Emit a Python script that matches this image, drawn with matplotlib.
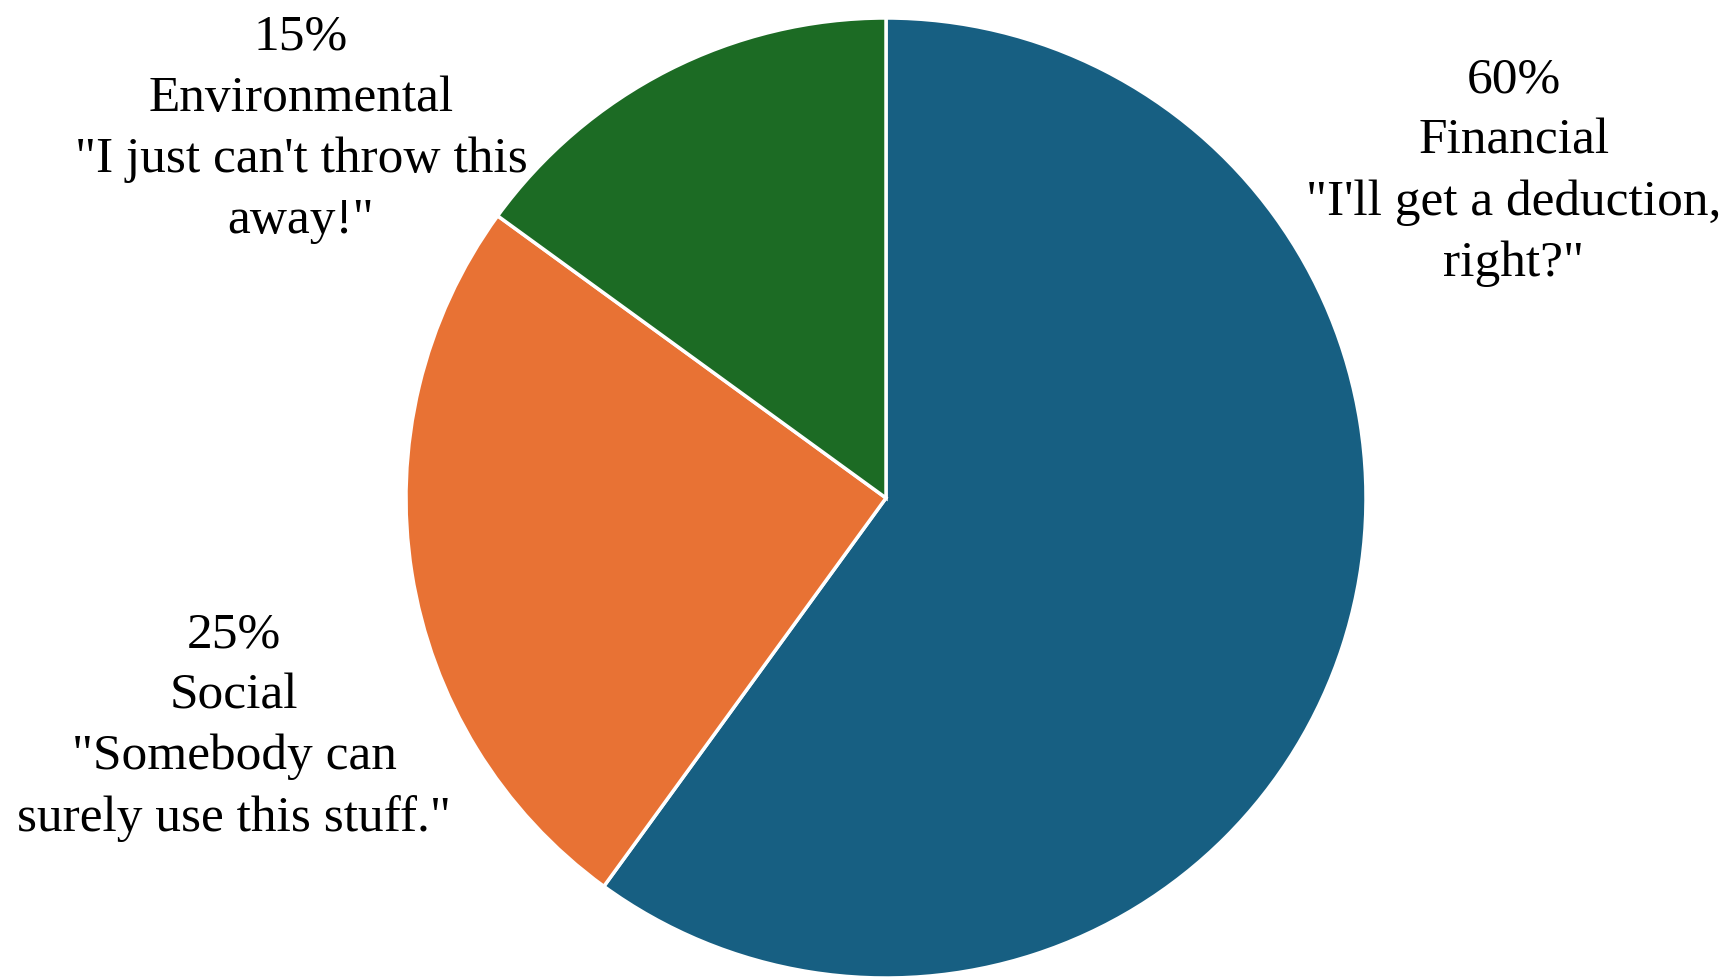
import matplotlib.pyplot as plt

categories = ['Financial', 'Social', 'Environmental']
shares = [60, 25, 15]
quotes = ['"I\'ll get a deduction,\nright?"',
          '"Somebody can\nsurely use this stuff."',
          '"I just can\'t throw this\naway!"']
colors = ['#175f82', '#e87234', '#1c6b24']

plt.rcParams['font.family'] = ['Liberation Serif', 'DejaVu Serif']

fig = plt.figure(figsize=(17.29, 9.77), dpi=100)
ax = fig.add_axes([0, 0, 1, 1])

# pie laid out in pixel space
ax.pie(shares, colors=colors, startangle=90, counterclock=False,
       center=(886, 479), radius=480, frame=True,
       wedgeprops=dict(edgecolor='white', linewidth=2.5))
ax.set_xlim(0, 1729)
ax.set_ylim(0, 977)
ax.set_aspect('equal')
ax.axis('off')

# label anchor points (x, y) in pixels
label_pos = [(1514, 805), (234, 250), (301, 848)]
for cat, s, q, (x, y) in zip(categories, shares, quotes, label_pos):
    ax.text(x, y, f'{s}%\n{cat}\n{q}', ha='center', va='center',
            fontsize=37, linespacing=1.41, color='black')

fig.savefig('out.png', dpi=100)
